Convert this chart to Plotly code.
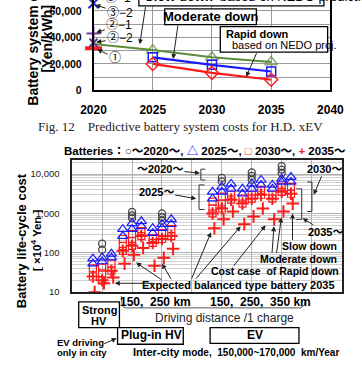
import plotly.graph_objects as go

W, H = 362, 366
SANS = "Liberation Sans, Arial, Noto Sans CJK JP, sans-serif"
SERIF = "Liberation Serif, Times New Roman, serif"

# ---------------- Top chart data (battery system cost, Yen/kWh) ----------------
years_slow = [2020, 2025, 2030, 2035]
cost_slow = [35000, 30500, 25000, 21500]
years_moderate = [2025, 2030, 2035]
cost_moderate = [25000, 19300, 14300]
years_rapid = [2025, 2030, 2035]
cost_rapid = [20000, 13300, 8100]
ref_labels = ["①", "②−2", "②−1", "③−2"]
ref_cost_2020 = [31800, 36000, 43000, 65700]
top_xticks = [2020, 2025, 2030, 2035, 2040]
top_yticks = [0, 20000, 40000, 60000]
top_yticktext = ["0", "20,000", "40,000", "60,000"]

# ---------------- Bottom chart data (battery life-cycle cost, x10^4 Yen) ----------------
group_names = ["Strong HV", "PHV 150 km", "PHV 250 km", "EV 150 km", "EV 250 km", "EV 350 km"]
group_pos = [1, 2, 3, 5, 6, 7]
# 2020 batteries (middle column only)
cost_2020 = [[170, 120], [1100, 890, 750], [1000, 800, 650],
             [8000, 6500], [11000, 9000, 7200], [16000, 13000, 10500]]
# per group: [left, middle, right] columns
cost_2025 = [[[71, 53], [75, 60], [94, 75]],
             [[398, 266], [562, 398], [631, 473]],
             [[422, 316], [531, 422], [708, 531]],
             [[3548, 2371], [4732, 3548], [5623, 4217]],
             [[4217, 3162], [5623, 4217], [7079, 5309]],
             [[5309, 4217], [7499, 6310], [8414, 6310]]]
cost_2030 = [[[40, 25], [42, 30, 20], [53, 35]],
             [[224, 150, 112], [299, 200, 150], [355, 266]],
             [[237, 178], [316, 224], [398, 266]],
             [[1995, 1334, 1000], [2661, 1778, 1334], [2985, 2239]],
             [[2371, 1778], [2985, 2371], [3981, 2985]],
             [[2985, 2371], [4732, 3548], [4732, 3162]]]
cost_2035 = [[[25], [20], [35]],
             [[112], [150], [266]],
             [[178], [224], [266]],
             [[1000], [1334], [2239]],
             [[1778], [2371], [2985]],
             [[2371], [3548], [3162]]]
# expected balanced type battery 2035 (slow / moderate / rapid cost cases)
cost_balanced_2035 = [[10, 16.8, 23.7], [53, 89, 133], [47, 75, 126],
                      [422, 708, 1122], [531, 841, 1334], [708, 1122, 1778]]
bottom_yticks = [10, 100, 1000, 10000]
bottom_yticktext = ["10", "100", "1,000", "10,000"]

SUB = [-0.31, 0.0, 0.31]

fig = go.Figure()

# ---- top traces ----
GREEN, BLUE, RED, PURPLE = "#5b8c3a", "#1a1aff", "#ff1a1a", "#7a3aa0"
fig.add_trace(go.Scatter(x=years_slow, y=cost_slow, mode="lines+markers",
                         line=dict(color=GREEN, width=2),
                         marker=dict(symbol="triangle-up-open", size=[0, 11, 11, 11], color=GREEN,
                                     line=dict(width=1.5, color=GREEN)),
                         xaxis="x", yaxis="y"))
fig.add_trace(go.Scatter(x=years_moderate, y=cost_moderate, mode="lines+markers",
                         line=dict(color=BLUE, width=2.2),
                         marker=dict(symbol="square-open", size=9, color=BLUE, line=dict(width=1.5, color=BLUE)),
                         xaxis="x", yaxis="y"))
fig.add_trace(go.Scatter(x=years_rapid, y=cost_rapid, mode="lines+markers",
                         line=dict(color=RED, width=2.2),
                         marker=dict(symbol="diamond-open", size=10, color=RED, line=dict(width=1.5, color=RED)),
                         xaxis="x", yaxis="y"))
ref_sym = ["line-ew", "x-thin", "cross-thin", "x-thin"]
ref_col = [RED, "#5a3a8a", PURPLE, "#2a2acc"]
ref_size = [12, 8, 10, 10]
ref_w = [4, 2, 2, 2]
for i in range(len(ref_labels)):
    fig.add_trace(go.Scatter(x=[top_xticks[0]], y=[ref_cost_2020[i]], mode="markers",
                             marker=dict(symbol=ref_sym[i], size=ref_size[i], color=ref_col[i],
                                         line=dict(width=ref_w[i], color=ref_col[i])),
                             cliponaxis=False, xaxis="x", yaxis="y"))

# ---- bottom traces ----
def collect(data, mid_only=False):
    xs, ys = [], []
    for g, gp in enumerate(group_pos):
        if mid_only:
            for v in data[g]:
                xs.append(gp + SUB[1]); ys.append(v)
        else:
            for s, col in enumerate(data[g]):
                for v in col:
                    xs.append(gp + SUB[s]); ys.append(v)
    return xs, ys

x20, y20 = collect(cost_2020, mid_only=True)
x30, y30 = collect(cost_2030)
x25, y25 = collect(cost_2025)
x35, y35 = collect(cost_2035)
xb, yb = [], []
for g, gp in enumerate(group_pos):
    for s, v in enumerate(cost_balanced_2035[g]):
        xb.append(gp + SUB[s] + 0.06); yb.append(v)

fig.add_trace(go.Scatter(x=x20, y=y20, mode="markers", xaxis="x2", yaxis="y2",
                         marker=dict(symbol="circle-open", size=7, color="#444",
                                     line=dict(width=1.3, color="#444"))))
fig.add_trace(go.Scatter(x=x30, y=y30, mode="markers", xaxis="x2", yaxis="y2",
                         marker=dict(symbol="square-open", size=7, color=RED, line=dict(width=1.2, color=RED))))
fig.add_trace(go.Scatter(x=x25, y=y25, mode="markers", xaxis="x2", yaxis="y2",
                         marker=dict(symbol="triangle-up-open", size=9, color=BLUE, line=dict(width=1.2, color=BLUE))))
fig.add_trace(go.Scatter(x=x35 + xb, y=y35 + yb, mode="markers", xaxis="x2", yaxis="y2",
                         marker=dict(symbol="cross-thin", size=9, color=RED, line=dict(width=2, color=RED))))

# ---------------- helpers for decorations ----------------
def P(x, y):
    return x / W, 1 - y / H

ann = []
shapes = []

def txt(x, y, s, size=11, color="black", family=SANS, xanchor="center", yanchor="middle", angle=0):
    px, py = P(x, y)
    ann.append(dict(x=px, y=py, xref="paper", yref="paper", text=s, showarrow=False,
                    font=dict(size=size, color=color, family=family),
                    xanchor=xanchor, yanchor=yanchor, textangle=angle))

def arr(hx, hy, tx, ty, s="", size=11, color="#222", width=1):
    px, py = P(hx, hy)
    ann.append(dict(x=px, y=py, xref="paper", yref="paper", ax=tx - hx, ay=ty - hy,
                    axref="pixel", ayref="pixel", text=s, showarrow=True,
                    arrowhead=2, arrowsize=1, arrowwidth=width, arrowcolor=color,
                    standoff=0, startstandoff=0,
                    font=dict(size=size, color="black", family=SANS)))

def rect(x0, y0, x1, y1, width=1.3):
    a0, b0 = P(x0, y0); a1, b1 = P(x1, y1)
    shapes.append(dict(type="rect", xref="paper", yref="paper", x0=a0, y0=b1, x1=a1, y1=b0,
                       line=dict(color="black", width=width), fillcolor="white", layer="above"))

def path(pts, color="#333", width=1):
    d = ""
    for i, (x, y) in enumerate(pts):
        a, b = P(x, y)
        d += ("M" if i == 0 else "L") + f"{a:.5f},{b:.5f} "
    shapes.append(dict(type="path", xref="paper", yref="paper", path=d.strip(),
                       line=dict(color=color, width=width), layer="above"))

# ---------------- top chart decorations ----------------
txt(22, 40, "<b>Battery system cost</b>", size=14, angle=-90)
txt(37, 39, "<b>[Yen/kWh]</b>", size=14, angle=-90)

rect(136, -20, 336, 6)
txt(140, -4, "<b>Slow down</b>  based on NEDO prediction", size=13, xanchor="left")
rect(164, 9, 263, 25)
txt(213, 17, "<b>Moderate down</b>", size=13)
rect(224, 27, 340, 53)
txt(228, 35, "<b>Rapid down</b>", size=11, xanchor="left")
txt(234, 46, "based on NEDO proj.", size=11, xanchor="left")

arr(137, 45, 143, 6)
arr(173, 60, 178, 25)
arr(252, 78, 263, 53)

txt(113, -2, "③−1", size=12)
arr(89, 5, 114, 13, "③−2", size=12)
arr(90, 33, 113, 26, "②−1", size=12)
arr(90, 43, 114, 39, "②−2", size=12)
arr(91, 50, 109, 59, "①", size=12)

# caption
txt(181, 129, "Fig. 12    Predictive battery system costs for H.D. xEV", size=13, family=SERIF, color="#222")

# ---------------- bottom chart decorations ----------------
txt(208, 154, "<b>Batteries：<span style='color:#333'>○</span>～2020～, <span style='color:#1a1aff'>△</span> 2025～, "
              "<span style='color:#ff1a1a'>□</span> 2030～, <span style='color:#ff1a1a'>+</span> 2035～</b>", size=11.5)
txt(10, 245, "<b>Battery life-cycle cost</b>", size=13, angle=-90)
txt(25, 244, "<b>[ ×10<sup>4</sup> Yen ]</b>", size=11.5, angle=-90)

arr(202, 176, 162, 172, "<b>～2020～</b>", size=11)
path([(208, 172), (203, 172), (203, 183), (208, 183)])
arr(198, 202, 158, 195, "<b>2025～</b>", size=11)
path([(207, 188), (201, 188), (201, 213), (207, 213)])
arr(325, 198, 336, 172, "<b>2030～</b>", size=11)
path([(318, 185), (323, 185), (323, 215), (318, 215)])
arr(313, 222, 336, 236, "<b>2035～</b>", size=11)
path([(306, 192), (312, 192), (312, 223), (306, 223)])

txt(352, 250, "<b>Slow down</b>", size=10.5, xanchor="right")
txt(352, 263, "<b>Moderate down</b>", size=10.5, xanchor="right")
txt(354, 276, "<b>Cost case  of Rapid down</b>", size=10.5, xanchor="right")
txt(350, 290, "<b>Expected balanced type battery 2035</b>", size=11, xanchor="right")

arr(302, 217, 302, 245)
arr(290, 221, 285, 258)
arr(282, 230, 280, 258)
arr(273, 229, 240, 271)
arr(246, 230, 200, 284)
arr(214, 236, 194, 284)
arr(110, 288, 150, 288)
arr(133, 267, 160, 285)
arr(161, 268, 171, 285)

# below the chart
txt(154, 307, "<b>150,  250 km</b>", size=12)
txt(267, 307, "<b>150,  250,  350 km</b>", size=12)
path([(117, 301), (118, 311), (121, 313), (311, 313), (315, 310), (316, 305)], color="#555")
txt(229, 323, "Driving distance /1 charge", size=12, color="#222")

rect(71, 307, 115, 333)
txt(93, 315, "<b>Strong</b>", size=11)
txt(93, 326, "<b>HV</b>", size=11)
rect(113, 333, 184, 350)
txt(150, 341, "<b>Plug-in HV</b>", size=12)
rect(213, 333, 309, 349)
txt(261, 341, "<b>EV</b>", size=12)

txt(73, 348, "<b>EV driving</b>", size=9.5)
txt(75, 358, "<b>only in city</b>", size=9.5)
arr(112, 344, 98, 350)
txt(128, 358, "<b><span style='font-size:11px'>Inter-city</span> mode,  150,000~170,000  km/Year</b>",
    size=10, xanchor="left")

GRID = "#b0b0b0"
minor_log = [v * d for d in (10, 100, 1000) for v in range(2, 10)] + [20000]

fig.update_layout(
    width=W, height=H, margin=dict(l=0, r=0, t=0, b=0),
    paper_bgcolor="white", plot_bgcolor="white", showlegend=False,
    font=dict(family=SANS, color="black"),
    xaxis=dict(domain=[87 / W, 343 / W], anchor="y", range=[2020, 2040],
               tickvals=top_xticks, ticktext=[f"<b>{v}</b>" for v in top_xticks],
               tickfont=dict(size=12), ticks="", ticklabelstandoff=7,
               showgrid=True, gridcolor="#999", gridwidth=1,
               showline=True, linecolor="black", linewidth=1.5, zeroline=False),
    yaxis=dict(domain=[1 - 92 / H, 1], anchor="x", range=[0, 68150],
               tickvals=top_yticks, ticktext=[f"<b>{t}</b>" for t in top_yticktext],
               tickfont=dict(size=10.5), ticks="", ticklabelstandoff=8,
               showgrid=True, gridcolor="#999", gridwidth=1,
               minor=dict(dtick=10000, showgrid=True, gridcolor="#999", gridwidth=1),
               showline=True, mirror=True, linecolor="black", linewidth=1.5, zeroline=False),
    xaxis2=dict(domain=[64 / W, 355 / W], anchor="y2", range=[0, 9],
                tickvals=list(range(1, 9)), showticklabels=False, ticks="",
                showgrid=True, gridcolor=GRID, gridwidth=1,
                showline=True, mirror=True, linecolor="#222", linewidth=1.5, zeroline=False),
    yaxis2=dict(domain=[1 - 297 / H, 1 - 163 / H], anchor="x2", type="log", range=[1, 4.35],
                tickvals=bottom_yticks, ticktext=bottom_yticktext,
                tickfont=dict(size=9.5, color="#222"), ticks="", ticklabelstandoff=9,
                showgrid=True, gridcolor=GRID, gridwidth=1,
                minor=dict(tickvals=minor_log, showgrid=True, gridcolor="#cfcfcf", gridwidth=1, ticks=""),
                showline=True, mirror=True, linecolor="#222", linewidth=1.5, zeroline=False),
    annotations=ann, shapes=shapes,
)

fig.write_html("out.html")
